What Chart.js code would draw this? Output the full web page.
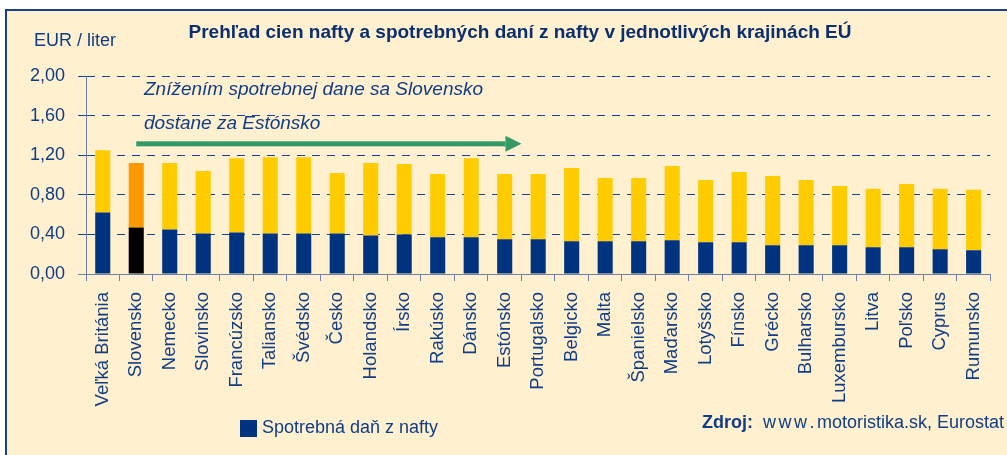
<!DOCTYPE html>
<html>
<head>
<meta charset="utf-8">
<script src="https://cdn.jsdelivr.net/npm/chart.js@4"></script>
<style>
  html, body { margin: 0; padding: 0; background: #ffffff; }
  #wrap { width: 1007px; height: 455px; }
</style>
</head>
<body>
<div id="wrap"><canvas id="c" width="1007" height="455"></canvas></div>
<script>
// ---- data ----
const countries = ["Veľká Británia","Slovensko","Nemecko","Slovinsko","Francúzsko","Taliansko","Švédsko","Česko","Holandsko","Írsko","Rakúsko","Dánsko","Estónsko","Portugalsko","Belgicko","Malta","Španielsko","Maďarsko","Lotyšsko","Fínsko","Grécko","Bulharsko","Luxembursko","Litva","Poľsko","Cyprus","Rumunsko"];
const exciseTax = [0.62,0.47,0.45,0.41,0.42,0.41,0.41,0.41,0.39,0.40,0.37,0.37,0.35,0.35,0.33,0.33,0.33,0.34,0.32,0.32,0.29,0.29,0.29,0.27,0.27,0.25,0.24];
const restOfPrice = [0.63,0.65,0.67,0.63,0.75,0.77,0.77,0.61,0.73,0.71,0.64,0.80,0.66,0.66,0.74,0.64,0.64,0.75,0.63,0.71,0.70,0.66,0.60,0.59,0.64,0.61,0.61];
const yTicks = [0, 0.4, 0.8, 1.2, 1.6, 2.0];
const highlight = "Slovensko";

const NAVY = "#00337f", BLACK = "#000000", YELLOW = "#ffcc00", ORANGE = "#ff9900";
const TEXT = "#113d85", TITLE = "#0b2f6e", SLATE = "#6e80a6", CREAM = "#fff0d0";
const FONT = "'Liberation Sans', Arial, sans-serif";

const taxColors = countries.map(c => c === highlight ? BLACK : NAVY);
const restColors = countries.map(c => c === highlight ? ORANGE : YELLOW);

const decor = {
  id: 'decor',
  beforeDraw(chart) {
    const ctx = chart.ctx;
    ctx.save();
    ctx.fillStyle = "#ffffff";
    ctx.fillRect(0, 0, chart.width, chart.height);
    ctx.fillStyle = CREAM;
    ctx.fillRect(6, 10, chart.width + 20, chart.height + 20);
    ctx.strokeStyle = "#1a3f82";
    ctx.lineWidth = 2;
    ctx.strokeRect(6, 10, chart.width + 20, chart.height + 20);
    ctx.restore();
  },
  afterDraw(chart) {
    const ctx = chart.ctx;
    const x = chart.scales.x, y = chart.scales.y;
    ctx.save();
    // title
    ctx.fillStyle = TITLE;
    ctx.font = "bold 19px " + FONT;
    ctx.textAlign = "center";
    ctx.textBaseline = "alphabetic";
    ctx.fillText("Prehľad cien nafty a spotrebných daní z nafty v jednotlivých krajinách EÚ", 520, 38);
    // unit
    ctx.textAlign = "left";
    ctx.fillStyle = TEXT;
    ctx.font = "18px " + FONT;
    ctx.fillText("EUR / liter", 34, 46);
    // annotation
    ctx.font = "italic 19px " + FONT;
    ctx.fillText("Znížením spotrebnej dane sa Slovensko", 144, 95);
    ctx.fillText("dostane za Estónsko", 144, 129);
    // arrow from Slovensko to Estónsko
    const half = (x.getPixelForValue(1) - x.getPixelForValue(0)) / 2;
    const ax0 = x.getPixelForValue(countries.indexOf("Slovensko"));
    const ax1 = x.getPixelForValue(countries.indexOf("Estónsko")) + half;
    const ay = y.getPixelForValue(1.32);
    ctx.fillStyle = "#339966";
    ctx.fillRect(ax0, ay - 2, ax1 - 16 - ax0, 5);
    ctx.beginPath();
    ctx.moveTo(ax1 - 16, ay - 7.5);
    ctx.lineTo(ax1, ay + 0.5);
    ctx.lineTo(ax1 - 16, ay + 8.5);
    ctx.closePath();
    ctx.fill();
    // legend
    const ds = chart.data.datasets[0];
    ctx.fillStyle = NAVY;
    ctx.fillRect(240, 420, 17, 17);
    ctx.fillStyle = TEXT;
    ctx.font = "18px " + FONT;
    ctx.fillText(ds.label, 262, 433);
    // source
    ctx.font = "bold 18px " + FONT;
    ctx.fillText("Zdroj:", 702, 428);
    ctx.font = "18px " + FONT;
    let cx = 763;
    for (const ch of "www.") {
      ctx.fillText(ch, cx, 428);
      cx += ctx.measureText(ch).width + 2.5;
    }
    ctx.fillText("motoristika.sk, Eurostat", cx, 428);
    ctx.restore();
  }
};

new Chart(document.getElementById('c'), {
  type: 'bar',
  data: {
    labels: countries,
    datasets: [
      { label: "Spotrebná daň z nafty", data: exciseTax, backgroundColor: taxColors, borderWidth: 0, barPercentage: 0.45, categoryPercentage: 1 },
      { label: "Cena bez spotrebnej dane", data: restOfPrice, backgroundColor: restColors, borderWidth: 0, barPercentage: 0.45, categoryPercentage: 1 }
    ]
  },
  options: {
    responsive: false,
    devicePixelRatio: 1,
    animation: false,
    layout: { padding: { top: 76, right: 9, left: 0, bottom: 0 } },
    plugins: { legend: { display: false }, title: { display: false }, tooltip: { enabled: false } },
    scales: {
      x: {
        stacked: true,
        afterFit: s => { s.height = 181; },
        grid: { display: true, drawOnChartArea: false, drawTicks: true, tickLength: 7, color: SLATE, offset: true },
        border: { display: true, color: SLATE, width: 1 },
        ticks: { color: TEXT, font: { family: FONT, size: 18.5 }, minRotation: 90, maxRotation: 90, autoSkip: false, padding: 11 }
      },
      y: {
        stacked: true,
        min: 0, max: 2.0,
        afterFit: s => { s.width = 86; },
        afterBuildTicks: s => { s.ticks = yTicks.map(v => ({ value: v })); },
        grid: {
          drawTicks: true, tickLength: 8,
          color: ctx => ctx.tick && ctx.tick.value === 0 ? 'rgba(0,0,0,0)' : '#1a4290',
          tickColor: ctx => ctx.tick && ctx.tick.value === 0 ? SLATE : '#1a4290'
        },
        border: { display: true, color: SLATE, width: 1, dash: [8, 7] },
        ticks: { color: TEXT, font: { family: FONT, size: 18 }, padding: 13, callback: v => Number(v).toFixed(2).replace('.', ',') }
      }
    }
  },
  plugins: [decor]
});
</script>
</body>
</html>
